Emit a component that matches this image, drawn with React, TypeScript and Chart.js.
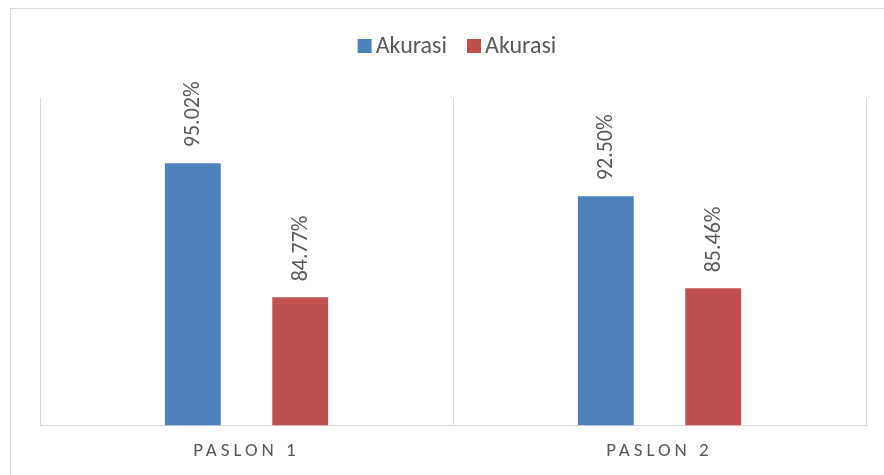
import React, { useEffect, useRef } from "react";
import { Chart, registerables } from "chart.js";

Chart.register(...registerables);

const categories = ["PASLON 1", "PASLON 2"];
const seriesNames = ["Akurasi", "Akurasi"];
const seriesA = [95.02, 92.5];
const seriesB = [84.77, 85.46];
const seriesColors = ["#4F81BD", "#C0504D"];
const yMin = 75;
const yMax = 100;

const FONT = "Carlito, Calibri, Lato, 'Open Sans', sans-serif";
const TEXT = "#595959";

const customPlugin = {
  id: "customPlugin",
  afterDatasetsDraw(chart: any) {
    const ctx = chart.ctx;
    chart.data.datasets.forEach((ds: any, di: number) => {
      const meta = chart.getDatasetMeta(di);
      meta.data.forEach((el: any, i: number) => {
        const v = ds.data[i];
        ctx.save();
        ctx.translate(el.x + 1, el.y - 16);
        ctx.rotate(-Math.PI / 2);
        ctx.font = `22px ${FONT}`;
        ctx.fillStyle = TEXT;
        ctx.textAlign = "left";
        ctx.textBaseline = "middle";
        ctx.fillText(v.toFixed(2) + "%", 0, 0);
        ctx.restore();
      });
    });
    // letter spacing for category labels drawn after datasets (ticks z = 1)
    (ctx as any).letterSpacing = "4px";
  },
  afterDraw(chart: any) {
    const ctx = chart.ctx;
    (ctx as any).letterSpacing = "0px";
    // legend
    ctx.save();
    ctx.font = `24px ${FONT}`;
    const box = 14;
    const gapBoxText = 4;
    const gapItems = 20;
    const items = chart.data.datasets.map((ds: any) => ({
      text: ds.label,
      color: ds.backgroundColor,
      w: box + gapBoxText + ctx.measureText(ds.label).width,
    }));
    const total =
      items.reduce((s: number, it: any) => s + it.w, 0) +
      gapItems * (items.length - 1);
    const ca = chart.chartArea;
    let x = (ca.left + ca.right) / 2 + 4 - total / 2;
    const cy = 46;
    items.forEach((it: any) => {
      ctx.fillStyle = it.color;
      ctx.fillRect(x, cy - box / 2, box, box);
      ctx.fillStyle = TEXT;
      ctx.textAlign = "left";
      ctx.textBaseline = "middle";
      ctx.fillText(it.text, x + box + gapBoxText, cy + 1);
      x += it.w + gapItems;
    });
    ctx.restore();
  },
};

export default function App() {
  const ref = useRef<HTMLCanvasElement | null>(null);
  useEffect(() => {
    if (!ref.current) return;
    const chart = new Chart(ref.current, {
      type: "bar",
      data: {
        labels: categories,
        datasets: [
          {
            label: seriesNames[0],
            data: seriesA,
            backgroundColor: seriesColors[0],
            categoryPercentage: 0.52,
            barPercentage: 0.52,
          },
          {
            label: seriesNames[1],
            data: seriesB,
            backgroundColor: seriesColors[1],
            categoryPercentage: 0.52,
            barPercentage: 0.52,
          },
        ],
      },
      options: {
        animation: false,
        responsive: false,
        maintainAspectRatio: false,
        layout: { padding: { left: 40, right: 18, top: 98, bottom: -3 } },
        plugins: {
          legend: { display: false },
          tooltip: { enabled: false },
        },
        scales: {
          x: {
            grid: {
              color: "#D9D9D9",
              lineWidth: 1,
              offset: true,
              drawTicks: false,
            },
            border: { color: "#D9D9D9", width: 1 },
            ticks: {
              z: 1,
              padding: 15,
              color: TEXT,
              font: { family: FONT, size: 19 },
            },
          },
          y: {
            display: false,
            min: yMin,
            max: yMax,
          },
        },
      },
      plugins: [customPlugin],
    });
    return () => chart.destroy();
  }, []);
  return (
    <>
      <div
        style={{
          position: "fixed",
          left: 10,
          top: 8,
          width: 1000,
          height: 1000,
          borderTop: "1px solid #D9D9D9",
          borderLeft: "1px solid #D9D9D9",
          boxSizing: "border-box",
        }}
      />
      <canvas
        ref={ref}
        width={884}
        height={475}
        style={{ position: "fixed", left: 0, top: 0, width: 884, height: 475 }}
      />
    </>
  );
}
